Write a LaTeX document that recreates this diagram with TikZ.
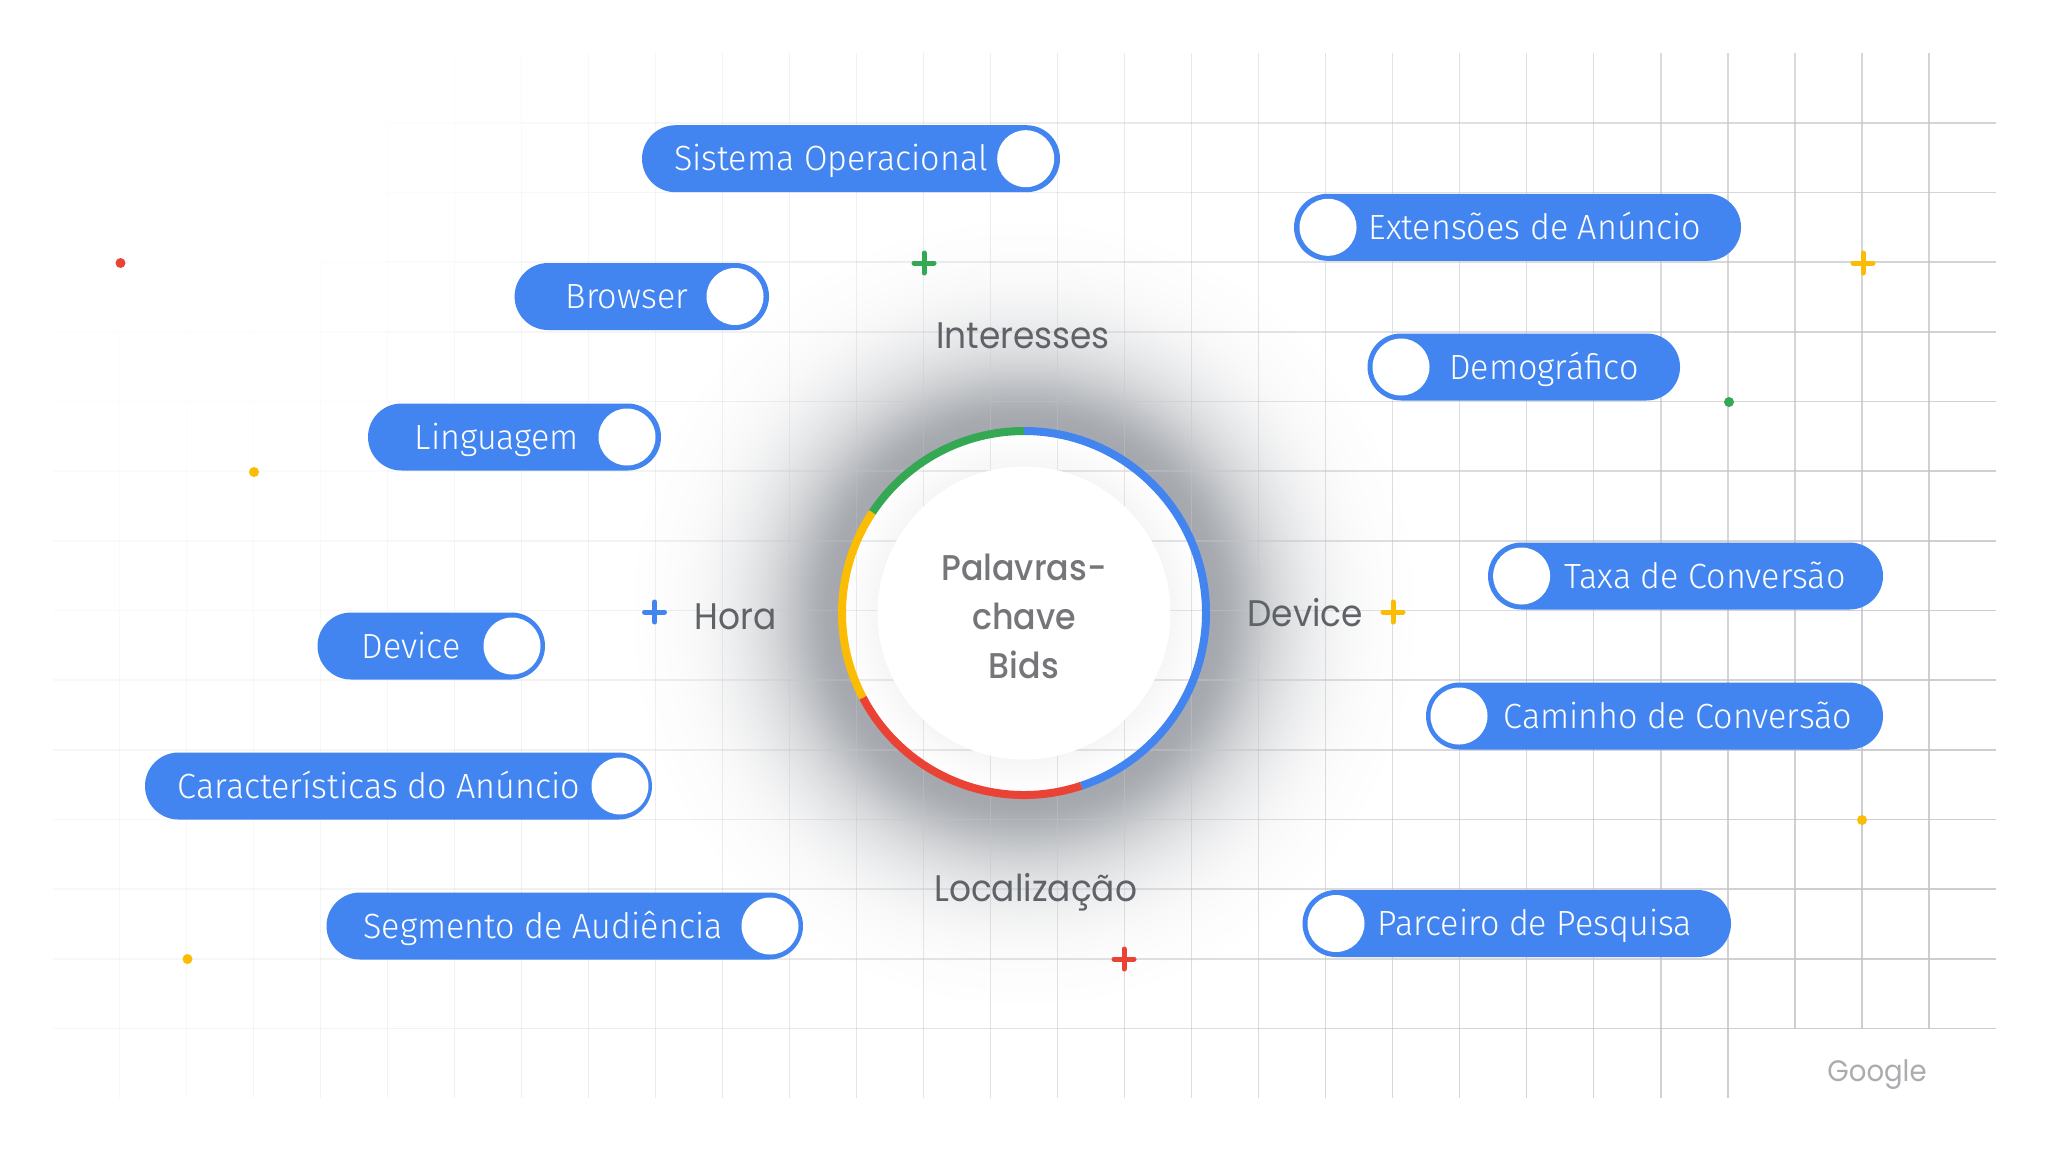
\documentclass[tikz,border=0pt]{standalone}
\usepackage{fontspec}
\setmainfont{Liberation Sans}
\newfontfamily\pillfont[UprightFont={* Light},FakeStretch=0.975]{Fira Sans}
\newfontfamily\labfont[FakeStretch=0.93]{Poppins}
\newfontfamily\midfont[UprightFont={* Medium},FakeStretch=0.93]{Poppins}
\definecolor{gblue}{HTML}{4285F0}
\definecolor{gred}{HTML}{EA4335}
\definecolor{gyellow}{HTML}{FBBC04}
\definecolor{ggreen}{HTML}{34A853}
\definecolor{labgray}{HTML}{5F6368}
\definecolor{midgray}{HTML}{75767A}
\definecolor{logogray}{HTML}{ACACB0}
\definecolor{gridcol}{HTML}{C4C4C9}
\tikzset{
  gridv/.style={gridcol,line width=0.65pt},
  gridh/.style={gridcol,line width=0.8pt},
  pillbody/.style={fill=gblue,rounded corners=16.75pt,minimum height=33.5pt,inner sep=0pt,draw=none},
  knob/.style={circle,fill=white,minimum size=28.5pt,inner sep=0pt,draw=none},
  pilltext/.style={text=white,inner sep=0pt,anchor=base,font=\pillfont\fontsize{17.5}{21}\selectfont},
  lab/.style={text=labgray,inner sep=0pt,anchor=base,font=\labfont\fontsize{18.5}{22}\selectfont},
  plusmark/.style={line width=2.5pt,line cap=round},
  dotmark/.style={circle,minimum size=5pt,inner sep=0pt,draw=none},
  ringarc/.style={line width=4pt},
}
\newcommand\pillbox[7]{%
  \pgfmathsetmacro\pillcx{(#2+#3)/2}%
  \pgfmathsetmacro\pillw{(#3-#2)/2}%
  \pgfmathsetmacro\pillb{#4+12}%
  \node[pillbody,minimum width=\pillw pt] (#1) at (\pillcx,#4) {};
  \node[knob] (#1K) at (#5,#4) {};
  \node[pilltext] (#1T) at (#6,\pillb) {#7};
}
\newcommand\plusat[4]{%
  \coordinate (#1) at (#2,#3);
  \draw[plusmark,#4] ([xshift=-5pt]#1) -- ([xshift=5pt]#1);
  \draw[plusmark,#4] ([yshift=-5pt]#1) -- ([yshift=5pt]#1);
}
\newcommand\gridalpha[2]{%
  \pgfmathsetmacro\al{min(0.85,max(0.85*pow(max(0.002,(0.8*#1/2048+0.2*#2/1152-0.15)/0.75),0.95),0.13*min(1,max(0,(#2-250)/500))))}%
}
\begin{document}
\begin{tikzpicture}[x=0.5pt,y=-0.5pt]
\useasboundingbox (0,0) rectangle (2048,1152);
\fill[white] (0,0) rectangle (2048,1152);
% halo, as concentric discs from the outside in
\begin{scope}[shift={(1024,613)},x=0.5pt,y=0.5pt]
  \foreach \r in {390,388.5,...,184}{
    \pgfmathsetmacro\dd{28*exp(-((\r-186)/45)^2)+62*exp(-((\r-186)/95)^2)}
    \pgfmathtruncatemacro\cr{255-\dd}
    \pgfmathtruncatemacro\cg{255-0.96*\dd}
    \pgfmathtruncatemacro\cb{255-0.90*\dd}
    \definecolor{halotone}{RGB}{\cr,\cg,\cb}
    \fill[halotone] (0,0) circle[radius=\r];
  }
  \fill[white] (0,0) circle[radius=184];
  \foreach \r in {180,178,...,146}{
    \pgfmathtruncatemacro\cr{246+9*(\r-146)/34}
    \pgfmathtruncatemacro\cb{248+7*(\r-146)/34}
    \definecolor{innertone}{RGB}{\cr,\cr,\cb}
    \fill[innertone] (0,0) circle[radius=\r];
  }
\end{scope}
% grid
\foreach \i in {0,...,27}{
  \pgfmathsetmacro\gx{119.6+67.01*\i}
  \ifnum\i>24 \def\jmax{13}\else\def\jmax{14}\fi
  \foreach \j in {0,...,\jmax}{
    \pgfmathsetmacro\ya{53.12+69.68*\j}
    \pgfmathsetmacro\yb{\ya+69.68}
    \gridalpha{\gx}{\ya}
    \draw[gridv,opacity=\al] (\gx,\ya) -- (\gx,\yb);
  }
}
\foreach \k in {0,...,13}{
  \pgfmathsetmacro\gy{122.8+69.68*\k}
  \foreach \i in {0,...,28}{
    \pgfmathsetmacro\xa{52.6+67.01*\i}
    \pgfmathsetmacro\xb{\xa+67.01}
    \gridalpha{\xa}{\gy}
    \draw[gridh,opacity=\al] (\xa,\gy) -- (\xb,\gy);
  }
}
% centre
\begin{scope}[shift={(1024,613)},x=0.5pt,y=0.5pt]
  \fill[white] (0,0) circle[radius=146.5];
  \draw[ringarc,gblue] (90:182) arc[start angle=90,end angle=-71.7,radius=182];
  \draw[ringarc,gred] (-71.7:182) arc[start angle=-71.7,end angle=-152.3,radius=182];
  \draw[ringarc,gyellow] (207.7:182) arc[start angle=207.7,end angle=146.4,radius=182];
  \draw[ringarc,ggreen] (146.4:182) arc[start angle=146.4,end angle=90,radius=182];
\end{scope}
\node[text=midgray,align=center,inner sep=0pt,font=\midfont\fontsize{17.9}{24.5}\selectfont] (core) at (1024,616.6) {Palavras-\\chave\\Bids};
% pills
\pillbox{sistema}{642}{1060}{158.7}{1025.7}{831}{Sistema Operacional}
\pillbox{extensoes}{1294}{1741}{227.3}{1328}{1535}{Extensões de Anúncio}
\pillbox{browser}{514.6}{769}{296.5}{735}{627}{Browser}
\pillbox{demog}{1367.5}{1680}{367}{1401}{1544}{Demográfico}
\pillbox{lingua}{368}{661}{437}{627}{497}{Linguagem}
\pillbox{taxa}{1488}{1883}{576}{1521.6}{1705}{Taxa de Conversão}
\pillbox{devicep}{317.5}{545}{646}{512}{411}{Device}
\pillbox{caminho}{1426}{1883}{716}{1459}{1678}{Caminho de Conversão}
\pillbox{caract}{145}{652}{786}{620}{379}{Características do Anúncio}
\pillbox{segmento}{326.5}{803}{926}{770}{543}{Segmento de Audiência}
\pillbox{parceiro}{1302.5}{1731}{923.5}{1336}{1535}{Parceiro de Pesquisa}
% labels
\node[lab] (interesses) at (1023,348) {Interesses};
\node[lab] (hora) at (735.5,629) {Hora};
\node[lab] (device) at (1305.3,626) {Device};
\node[lab] (local) at (1035.7,901.7) {Localização};
\node[text=logogray,inner sep=0pt,anchor=base,font=\labfont\fontsize{14.8}{18}\selectfont] (google) at (1877,1081) {Google};
% plus marks
\plusat{plusG}{924}{263}{ggreen}
\plusat{plusY}{1863}{263}{gyellow}
\plusat{plusB}{654.5}{612}{gblue}
\plusat{plusO}{1393}{612}{gyellow}
\plusat{plusR}{1124}{959}{gred}
% dots
\node[dotmark,fill=gred] (dotA) at (120.5,263) {};
\node[dotmark,fill=gyellow] (dotB) at (254,472) {};
\node[dotmark,fill=ggreen] (dotC) at (1729,402) {};
\node[dotmark,fill=gyellow] (dotD) at (1862,820) {};
\node[dotmark,fill=gyellow] (dotE) at (187.5,959) {};
\end{tikzpicture}
\end{document}
